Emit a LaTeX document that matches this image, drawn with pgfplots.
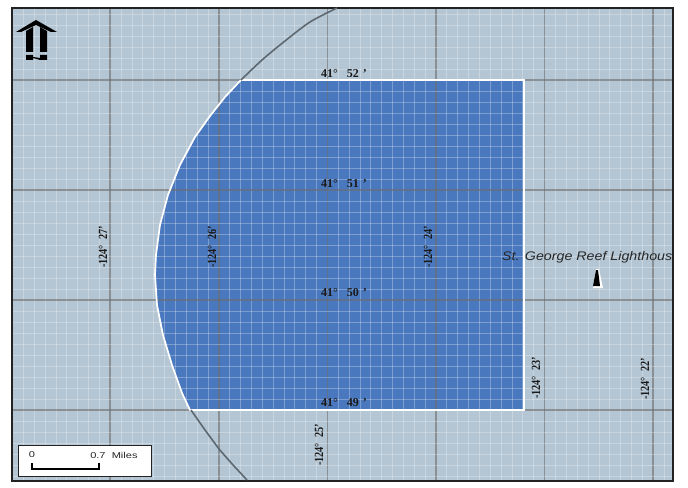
\documentclass[border=0pt]{standalone}
\usepackage{pgfplots}
\pgfplotsset{compat=1.18}
\usepackage{fontspec}
\setmainfont{Liberation Serif}
\newfontfamily\mapsans{Liberation Sans}
\definecolor{landbg}{HTML}{B4C6D4}
\definecolor{zone}{HTML}{4A78BE}
\definecolor{edge}{HTML}{5E6870}
\definecolor{frame}{HTML}{222222}
\newcommand{\latlab}[3]{\node[font=\bfseries\fontsize{12}{12}\selectfont,text=black!90] at (axis cs:#1,#2) {#3};}
\newcommand{\lonlab}[3]{\node[rotate=90,xscale=0.82,font=\bfseries\fontsize{12.5}{12.5}\selectfont,text=black!90] at (axis cs:#1,#2) {#3};}
\pgfplotsset{mapframe/.style={
  scale only axis,
  width=661pt, height=473pt,
  xmin=12, xmax=673, ymin=8, ymax=481,
  y dir=reverse,
}}
\begin{document}
\begin{tikzpicture}
% base map: sea, zone fill, graticule on top of the fill
\begin{axis}[
  mapframe,
  axis background/.style={fill=landbg},
  axis line style={color=frame,line width=1.8pt},
  axis on top,
  xtick={1.6,110.2,218.8,327.4,436,544.6,653.2,761.8},
  ytick={-30,80,190,300,410,520},
  minor x tick num=9, minor y tick num=9,
  major tick length=0pt, minor tick length=0pt,
  xticklabels={}, yticklabels={},
  xmajorgrids, ymajorgrids, xminorgrids, yminorgrids,
  major grid style={color=gray!85!black,line width=1.6pt,opacity=0.6},
  minor grid style={color=white,line width=0.8pt,opacity=0.28},
]
\addplot[fill=zone,draw=none] coordinates {
  (241,80)(225,97)(210,116)(195,137)(180,165)(168,195)(160,225)(156,255)(155,275)(157,305)(163,335)(172,365)(182,393)(190,410)
  (524,410)(524,80)} -- cycle;
\end{axis}
% overlay axis with the same box: outline, symbols and text
\begin{axis}[
  mapframe,
  hide axis,
  clip=false,
]
\addplot[white,line width=1.7pt] coordinates {
  (241,80)(225,97)(210,116)(195,137)(180,165)(168,195)(160,225)(156,255)(155,275)(157,305)(163,335)(172,365)(182,393)(190,410)
  (524,410)(524,80)(241,80)};
\addplot[edge,line width=1.6pt,smooth] coordinates {(241,80)(262,60)(285,41)(310,22)(337,8)};
\addplot[edge,line width=1.6pt] coordinates {(191,410)(205,430)(219,449)(233,465)(247,480)};
% lighthouse
\addplot[fill=white,draw=none] coordinates {(596,269)(599,269)(603,288)(593,288)} -- cycle;
\addplot[fill=black,draw=none] coordinates {(596,270)(598,270)(600,286)(593,286)} -- cycle;
% north arrow
\addplot[fill=black,draw=none] coordinates {(36,20)(57,32)(51,32)(36,25)(21,32)(16,32)} -- cycle;
\addplot[fill=black,draw=none] coordinates {(26,31)(33,27)(33,52)(26,52)} -- cycle;
\addplot[fill=black,draw=none] coordinates {(40,27)(47,31)(47,52)(40,52)} -- cycle;
\addplot[fill=black,draw=none] coordinates {(26,55)(33,55)(33,57)(40,58)(40,55)(47,55)(47,60)(40,60)(33,58)(33,60)(26,60)} -- cycle;
% scale bar
\addplot[fill=white,draw=frame,line width=0.8pt] coordinates {(18,445)(151,445)(151,476)(18,476)} -- cycle;
\addplot[black,line width=1.4pt] coordinates {(32,463)(32,469)(99,469)(99,463)};
\node[font=\mapsans\fontsize{8.5}{8.5}\selectfont,text=black!85,xscale=1.3] at (axis cs:32,455) {0};
\node[font=\mapsans\fontsize{8.5}{8.5}\selectfont,text=black!85,anchor=west,inner sep=0pt,xscale=1.3] at (axis cs:90,455) {0.7\ \ Miles};
\latlab{344}{74}{41°\ \ \ 52\,\,'}
\latlab{344}{184}{41°\ \ \ 51\,\,'}
\latlab{344}{293}{41°\ \ \ 50\,\,'}
\latlab{344}{403}{41°\ \ \ 49\,\,'}
\lonlab{103}{247}{-124°\ \ 27'}
\lonlab{212}{247}{-124°\ \ 26'}
\lonlab{428}{247}{-124°\ \ 24'}
\lonlab{319}{445}{-124°\ \ 25'}
\lonlab{536}{378}{-124°\ \ 23'}
\lonlab{645}{379}{-124°\ \ 22'}
\node[font=\mapsans\itshape\fontsize{12.5}{12.5}\selectfont,text=black!85,anchor=west,inner sep=0pt,xscale=1.14] at (axis cs:502,257) {St. George Reef Lighthous};
% page size, as large as the reference
\path (axis cs:0,0) rectangle (axis cs:688,483);
\end{axis}
\end{tikzpicture}
\end{document}
